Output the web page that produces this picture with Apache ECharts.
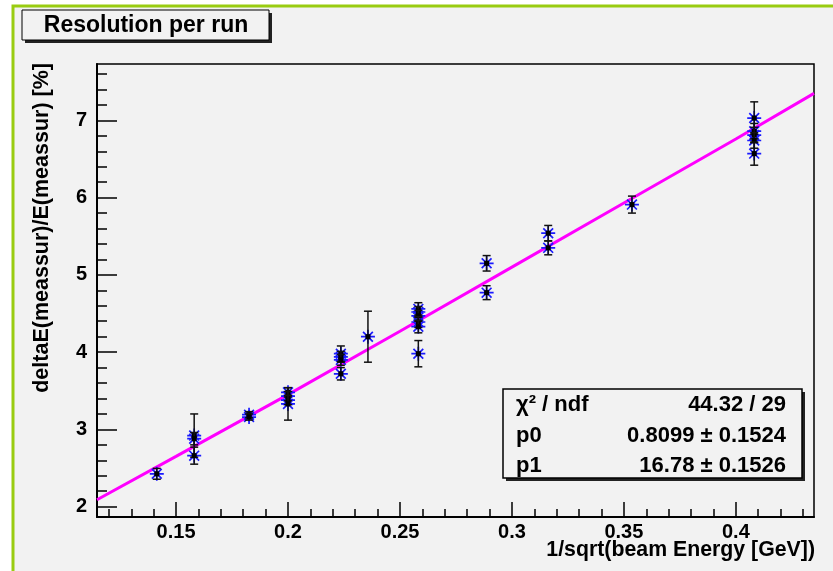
<!DOCTYPE html>
<html>
<head>
<meta charset="utf-8">
<script src="https://cdn.jsdelivr.net/npm/echarts@6/dist/echarts.min.js"></script>
<style>
  html, body { margin: 0; padding: 0; background: #fff; }
  #chart { width: 833px; height: 571px; }
</style>
</head>
<body>
<div id="chart"></div>
<script>
// measured points: x = 1/sqrt(E), y = resolution [%], err = y error
const xVals = [
  0.1414,
  0.1581, 0.1581, 0.1581,
  0.1826, 0.1826,
  0.2, 0.2, 0.2, 0.2,
  0.2236, 0.2236, 0.2236, 0.2236,
  0.2357,
  0.2582, 0.2582, 0.2582, 0.2582, 0.2582, 0.2582,
  0.2887, 0.2887,
  0.3162, 0.3162,
  0.3536,
  0.4082, 0.4082, 0.4082, 0.4082, 0.4082
];
const yVals = [
  2.425,
  2.92, 2.88, 2.66,
  3.19, 3.16,
  3.48, 3.43, 3.38, 3.33,
  3.98, 3.94, 3.90, 3.72,
  4.20,
  4.56, 4.52, 4.47, 4.39, 4.33, 3.98,
  5.15, 4.77,
  5.54, 5.35,
  5.91,
  7.03, 6.86, 6.81, 6.74, 6.57
];
const yErrs = [
  0.07,
  0.28, 0.08, 0.11,
  0.04, 0.04,
  0.06, 0.06, 0.06, 0.21,
  0.10, 0.07, 0.07, 0.08,
  0.33,
  0.08, 0.07, 0.07, 0.07, 0.08, 0.17,
  0.10, 0.09,
  0.10, 0.09,
  0.11,
  0.21, 0.10, 0.10, 0.10, 0.15
];

// fit curve
const fitX = [0.1147, 0.15, 0.2, 0.25, 0.3, 0.35, 0.4, 0.4349];
const fitY = [2.09, 2.65, 3.45, 4.27, 5.10, 5.93, 6.76, 7.35];

const xTicks = [0.15, 0.2, 0.25, 0.3, 0.35, 0.4];
const yTicks = [2, 3, 4, 5, 6, 7];

const statNames = ['χ² / ndf', 'p0', 'p1'];
const statValues = ['44.32 / 29', '0.8099 ± 0.1524', '16.78 ± 0.1526'];

const X_MIN = 0.1147, X_MAX = 0.4349;
const Y_MIN = 1.866, Y_MAX = 7.73;

// minor ticks (ROOT style: 0.01 on x, 0.2 on y)
const xMinor = [];
for (let i = 12; i <= 43; i++) if (i % 5) xMinor.push(i / 100);
const yMinor = [];
for (let i = 10; i <= 38; i++) if (i % 5) yMinor.push(+(i * 0.2).toFixed(1));

const FONT = "'Liberation Sans', Arial, Helvetica, sans-serif";
const GREEN = '#99cc11';
const BG = '#f2f2f2';

const points = xVals.map((x, i) => [x, yVals[i], yErrs[i]]);
const fitLine = fitX.map((x, i) => [x, fitY[i]]);

const chart = echarts.init(document.getElementById('chart'));

const axisFont = { fontFamily: FONT, fontWeight: 'bold', fontSize: 20, color: '#000' };

const option = {
  animation: false,
  backgroundColor: '#fff',
  grid: {
    left: 97, right: 19, top: 64, bottom: 54,
    show: true, backgroundColor: BG, borderColor: '#000', borderWidth: 1.5
  },
  xAxis: [
    {
      type: 'value', min: X_MIN, max: X_MAX,
      axisLine: { show: true, onZero: false, lineStyle: { color: '#000', width: 2 } },
      axisTick: { show: true, inside: true, length: 15, customValues: xTicks, lineStyle: { color: '#000', width: 1.5 } },
      axisLabel: Object.assign({ customValues: xTicks, margin: 5, formatter: v => String(v) }, axisFont),
      splitLine: { show: false }
    },
    {
      type: 'value', min: X_MIN, max: X_MAX, position: 'bottom',
      axisLine: { show: false },
      axisTick: { show: true, inside: true, length: 8, customValues: xMinor, lineStyle: { color: '#000', width: 1.5 } },
      axisLabel: { show: false },
      splitLine: { show: false }
    }
  ],
  yAxis: [
    {
      type: 'value', min: Y_MIN, max: Y_MAX,
      axisLine: { show: true, onZero: false, lineStyle: { color: '#000', width: 2 } },
      axisTick: { show: true, inside: true, length: 20, customValues: yTicks, lineStyle: { color: '#000', width: 1.5 } },
      axisLabel: Object.assign({ customValues: yTicks, margin: 10, formatter: v => String(v) }, axisFont),
      splitLine: { show: false }
    },
    {
      type: 'value', min: Y_MIN, max: Y_MAX, position: 'left',
      axisLine: { show: false },
      axisTick: { show: true, inside: true, length: 10, customValues: yMinor, lineStyle: { color: '#000', width: 1.5 } },
      axisLabel: { show: false },
      splitLine: { show: false }
    }
  ],
  series: [
    {
      name: 'fit', type: 'line', data: fitLine,
      xAxisIndex: 0, yAxisIndex: 0,
      showSymbol: false, symbol: 'none', smooth: false,
      lineStyle: { color: '#ff00ff', width: 3 },
      z: 2
    },
    {
      name: 'points', type: 'scatter', data: points,
      xAxisIndex: 0, yAxisIndex: 0,
      symbol: 'path://M0,6L12,6M6,0L6,12M1.8,1.8L10.2,10.2M1.8,10.2L10.2,1.8',
      symbolSize: 14,
      itemStyle: { color: '#1a1aff', borderColor: '#1a1aff', borderWidth: 1.7, opacity: 1 },
      z: 3
    },
    {
      name: 'errors', type: 'custom', data: points,
      xAxisIndex: 0, yAxisIndex: 0,
      renderItem: function (params, api) {
        const x = api.value(0), y = api.value(1), e = api.value(2);
        const c = api.coord([x, y]);
        const top = api.coord([x, y + e]);
        const bot = api.coord([x, y - e]);
        const st = { stroke: '#111', lineWidth: 1.5 };
        return {
          type: 'group',
          children: [
            { type: 'line', shape: { x1: c[0], y1: top[1], x2: c[0], y2: bot[1] }, style: st },
            { type: 'line', shape: { x1: c[0] - 4, y1: top[1], x2: c[0] + 4, y2: top[1] }, style: st },
            { type: 'line', shape: { x1: c[0] - 4, y1: bot[1], x2: c[0] + 4, y2: bot[1] }, style: st },
            { type: 'rect', shape: { x: c[0] - 2.5, y: c[1] - 2.5, width: 5, height: 5 }, style: { fill: '#000' } }
          ]
        };
      },
      z: 4
    }
  ],
  graphic: [
    // canvas frame (green highlight)
    { type: 'rect', z: -10, shape: { x: 13, y: 6, width: 840, height: 590 },
      style: { fill: BG, stroke: GREEN, lineWidth: 3 } },
    // title box
    { type: 'rect', shape: { x: 25, y: 13, width: 247, height: 30 }, style: { fill: '#222' } },
    { type: 'rect', shape: { x: 22, y: 10, width: 247, height: 30 },
      style: { fill: BG, stroke: '#000', lineWidth: 1 } },
    { type: 'text', x: 146, y: 26,
      style: { text: 'Resolution per run', fontFamily: FONT, fontWeight: 'bold', fontSize: 23,
               fill: '#000', align: 'center', verticalAlign: 'middle' } },
    // axis titles
    { type: 'text', x: 42, y: 63, rotation: Math.PI / 2,
      style: { text: 'deltaE(meassur)/E(meassur) [%]', fontFamily: FONT, fontWeight: 'bold', fontSize: 21.5,
               fill: '#000', align: 'right', verticalAlign: 'middle' } },
    { type: 'text', x: 815, y: 550,
      style: { text: '1/sqrt(beam Energy [GeV])', fontFamily: FONT, fontWeight: 'bold', fontSize: 21.3,
               fill: '#000', align: 'right', verticalAlign: 'middle' } },
    // fit statistics box
    { type: 'rect', z: 10, shape: { x: 506, y: 392, width: 299, height: 89 }, style: { fill: '#222' } },
    { type: 'rect', z: 11, shape: { x: 503, y: 389, width: 299, height: 89 },
      style: { fill: BG, stroke: '#000', lineWidth: 1.5 } }
  ].concat(statNames.map((s, i) => ({
    type: 'text', z: 12, x: 516, y: 405 + i * 30.5,
    style: { text: s, fontFamily: FONT, fontWeight: 'bold', fontSize: 22, fill: '#000',
             align: 'left', verticalAlign: 'middle' }
  }))).concat(statValues.map((s, i) => ({
    type: 'text', z: 12, x: 786, y: 405 + i * 30.5,
    style: { text: s, fontFamily: FONT, fontWeight: 'bold', fontSize: 22, fill: '#000',
             align: 'right', verticalAlign: 'middle' }
  })))
};

chart.setOption(option);
</script>
</body>
</html>
